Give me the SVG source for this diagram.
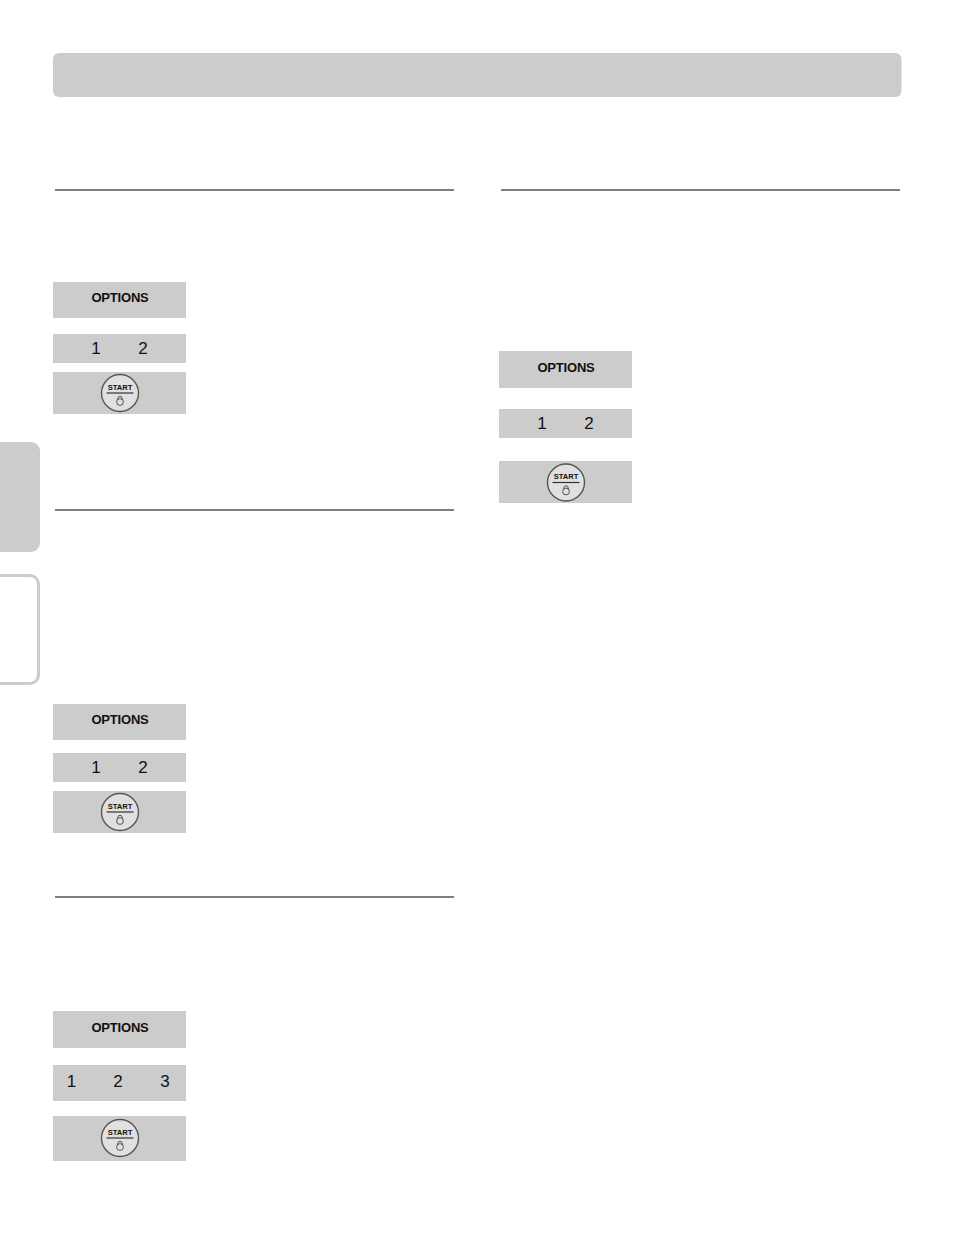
<svg xmlns="http://www.w3.org/2000/svg" width="954" height="1236" viewBox="0 0 954 1236">
<style>
.b{fill:#cccccc}
.r{stroke:#7f7f7f;stroke-width:1.8;fill:none}
.o{font:bold 13px "Liberation Sans",Arial,sans-serif;fill:#111;text-anchor:middle;letter-spacing:-.2px}
.n{font:17px "Liberation Sans",Arial,sans-serif;fill:#111;text-anchor:middle}
.c{fill:#e0e0e0;stroke:#555;stroke-width:1.4}
.s{font:bold 7.6px "Liberation Sans",Arial,sans-serif;fill:#111;text-anchor:middle}
.l{stroke:#333;stroke-width:1.2;fill:none}
.t{stroke:#333;stroke-width:.8;fill:none}
</style>
<defs>
<g id="start">
<circle class="c" cx="0" cy="0" r="18.500"/>
<text class="s" x="0" y="-3.500">START</text>
<path class="l" d="M-13.500 0H13.500"/>
<circle class="t" cx="0" cy="9" r="3.400"/>
<path class="t" d="M-2.200 6.800V5.500a2.200 2.200 0 0 1 4.400 0V6.800"/>
</g>
</defs>
<g id="header"><rect class="b" x="53" y="53" width="848.500" height="44" rx="6"/></g>
<g id="side-tabs">
<path class="b" d="M0 442H31a9 9 0 0 1 9 9V543a9 9 0 0 1-9 9H0Z"/>
<path d="M0 575.500H30a8.500 8.500 0 0 1 8.500 8.500V675a8.500 8.500 0 0 1-8.500 8.500H0" fill="none" stroke="#cccccc" stroke-width="3"/>
</g>
<g id="rules">
<path class="r" d="M55 190H454M501 190H900M55 510H454M55 897H454"/>
</g>
<g id="block-1">
<rect class="b" x="53" y="282" width="133" height="36"/><text class="o" x="120" y="302">OPTIONS</text>
<rect class="b" x="53" y="334" width="133" height="29"/><text class="n" x="96" y="353.500">1</text><text class="n" x="143" y="353.500">2</text>
<rect class="b" x="53" y="372" width="133" height="42"/><use href="#start" x="120" y="393"/>
</g>
<g id="block-2">
<rect class="b" x="53" y="704" width="133" height="36"/><text class="o" x="120" y="724">OPTIONS</text>
<rect class="b" x="53" y="753" width="133" height="29"/><text class="n" x="96" y="772.500">1</text><text class="n" x="143" y="772.500">2</text>
<rect class="b" x="53" y="791" width="133" height="42"/><use href="#start" x="120" y="812"/>
</g>
<g id="block-3">
<rect class="b" x="53" y="1011" width="133" height="37"/><text class="o" x="120" y="1032">OPTIONS</text>
<rect class="b" x="53" y="1065" width="133" height="36"/><text class="n" x="71.500" y="1086.500">1</text><text class="n" x="118" y="1086.500">2</text><text class="n" x="165" y="1086.500">3</text>
<rect class="b" x="53" y="1116" width="133" height="45"/><use href="#start" x="120" y="1138"/>
</g>
<g id="block-4">
<rect class="b" x="499" y="351" width="133" height="37"/><text class="o" x="566" y="372">OPTIONS</text>
<rect class="b" x="499" y="409" width="133" height="29"/><text class="n" x="542" y="428.500">1</text><text class="n" x="589" y="428.500">2</text>
<rect class="b" x="499" y="461" width="133" height="42"/><use href="#start" x="566" y="482.500"/>
</g>
</svg>
